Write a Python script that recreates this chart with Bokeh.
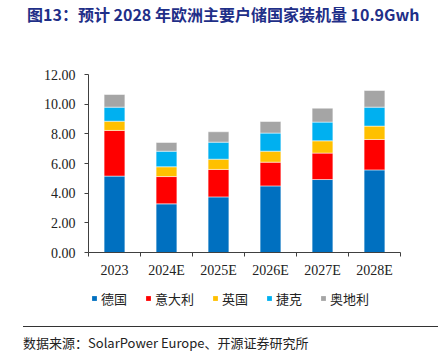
from bokeh.plotting import figure
from bokeh.layouts import column
from bokeh.models import ColumnDataSource, FixedTicker, NumeralTickFormatter, Div
from bokeh.embed import file_html
from bokeh.resources import INLINE

years = ["2023", "2024E", "2025E", "2026E", "2027E", "2028E"]
germany = [5.15, 3.28, 3.75, 4.49, 4.92, 5.57]
italy = [3.08, 1.84, 1.85, 1.60, 1.78, 2.05]
uk = [0.62, 0.66, 0.69, 0.74, 0.83, 0.90]
czech = [0.95, 1.05, 1.15, 1.22, 1.26, 1.28]
austria = [0.85, 0.59, 0.70, 0.78, 0.94, 1.12]
series_names = ["德国", "意大利", "英国", "捷克", "奥地利"]
colors = ["#0070C0", "#FF0000", "#FFC000", "#00B0F0", "#A5A5A5"]
y_ticks = [0, 2, 4, 6, 8, 10, 12]
title_text = "图13：预计 2028 年欧洲主要户储国家装机量 10.9Gwh"
source_text = "数据来源：SolarPower Europe、开源证券研究所"

W = 438
HEAD_H = 28
MAIN_H = 260          # canvas y 28..288
LEG_H = 24            # canvas y 288..312
FOOT_H = 352 - HEAD_H - MAIN_H - LEG_H   # 312..352

header = Div(
    text=('<div style="margin:0;padding:0 0 0 27px;height:28px;line-height:28px;'
          'white-space:nowrap;font-family:\'Noto Sans CJK SC\';font-weight:bold;'
          'font-size:16px;color:#1F2F88;">' + title_text + '</div>'),
    width=W, height=HEAD_H, margin=(0, 0, 0, 0))

keys = ["de", "it", "uk", "cz", "at"]
xs = list(range(len(years)))
source = ColumnDataSource(dict(x=xs, de=germany, it=italy, uk=uk, cz=czech, at=austria))

p = figure(width=W, height=MAIN_H, output_backend="svg", toolbar_location=None,
           x_range=(-0.5, len(years) - 0.5), y_range=(0, 12),
           min_border_left=88, min_border_right=38, min_border_top=74 - HEAD_H,
           min_border_bottom=HEAD_H + MAIN_H - 252, margin=(0, 0, 0, 0))
p.outline_line_color = None
p.xgrid.visible = False
p.ygrid.visible = False
p.background_fill_color = "white"
p.border_fill_color = "white"

p.vbar_stack(keys, x="x", width=0.4, color=colors, line_color="white", line_width=0.5,
             source=source)

axis_color = "#404040"
xa = p.xaxis[0]
xa.ticker = FixedTicker(ticks=xs, minor_ticks=[i - 0.5 for i in range(len(years) + 1)])
xa.major_label_overrides = {i: y for i, y in enumerate(years)}
xa.major_tick_line_color = None
xa.major_tick_out = 0
xa.major_tick_in = 0
xa.minor_tick_out = 4
xa.minor_tick_in = 0
xa.minor_tick_line_color = axis_color
xa.axis_line_color = axis_color
xa.major_label_standoff = 6
xa.major_label_text_font = "Liberation Serif"
xa.major_label_text_font_size = "14px"
xa.major_label_text_color = "#222222"

ya = p.yaxis[0]
ya.ticker = FixedTicker(ticks=y_ticks)
ya.formatter = NumeralTickFormatter(format="0.00")
ya.major_tick_out = 4
ya.major_tick_in = 0
ya.minor_tick_line_color = None
ya.axis_line_color = axis_color
ya.major_tick_line_color = axis_color
ya.major_label_standoff = 9
ya.major_label_text_font = "Liberation Serif"
ya.major_label_text_font_size = "14px"
ya.major_label_text_color = "#222222"

# legend strip: same series, drawn from the same source but kept hidden,
# so only the legend entries show
lf = figure(width=W, height=LEG_H, output_backend="svg", toolbar_location=None,
            x_range=(-0.5, len(years) - 0.5), y_range=(0, 12),
            min_border_left=88, min_border_right=38, min_border_top=0, min_border_bottom=0,
            margin=(0, 0, 0, 0))
lf.axis.visible = False
lf.grid.visible = False
lf.outline_line_color = None
lf.background_fill_color = "white"
lf.border_fill_color = "white"
leg_renderers = lf.vbar_stack(keys, x="x", width=0.4, color=colors, line_color=None,
                              source=source, legend_label=series_names)
for r in leg_renderers:
    r.visible = False
leg = lf.legend[0]
leg.orientation = "horizontal"
leg.location = (3, 4.5)
leg.glyph_width = 6
leg.glyph_height = 6
leg.label_standoff = 4
leg.spacing = 18
leg.padding = 0
leg.margin = 0
leg.label_height = 13
leg.label_text_font = "Noto Sans CJK SC"
leg.label_text_font_size = "13px"
leg.label_text_color = "#222222"
leg.border_line_color = None
leg.background_fill_alpha = 0
leg.inactive_fill_alpha = 0

footer = Div(
    text=('<div style="margin:14px 0 0 0;padding:3px 0 0 0;border-top:1px solid #333333;'
          'width:415px;height:22px;line-height:26px;white-space:nowrap;'
          'font-family:\'Noto Sans CJK SC\';font-size:13px;color:#222222;">'
          + source_text + '</div>'),
    width=W - 23, height=FOOT_H, margin=(0, 0, 0, 23))

layout = column(header, p, lf, footer, spacing=0)
open("out.html", "w").write(file_html(layout, INLINE))
